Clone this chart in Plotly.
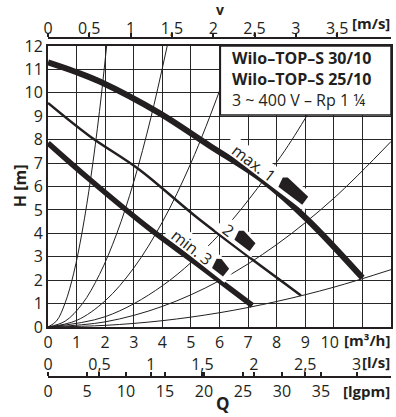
import math
import plotly.graph_objects as go

# ---------------- data ----------------
# pump curves (Q in m3/h, H in m)
q_max = [0, 1.0, 1.81, 3.9, 5.64, 7.49, 9.09, 11.0]
h_max = [11.3, 10.88, 10.48, 9.13, 7.75, 6.28, 4.57, 2.1]
q_mid = [0, 1.46, 3.2, 5.29, 8.85]
h_mid = [9.57, 8.15, 6.72, 4.6, 1.35]
q_min = [0, 1.46, 3.55, 5.16, 7.15]
h_min = [7.86, 6.3, 4.2, 2.75, 0.92]

# system curves (thin lines from the origin)
sys_a_q = [0, 0.3, 0.6, 0.9, 1.2, 1.5, 1.8, 2.06]
sys_a_h = [0, 0.26, 1.03, 2.3, 4.1, 6.4, 9.2, 12.1]
sys_b_q = [0, 0.6, 1.2, 1.8, 2.4, 3.0, 3.6, 4.17]
sys_b_h = [0, 0.25, 0.99, 2.24, 3.97, 6.2, 8.94, 12.0]
sys_c_q = [0, 1, 2, 3, 4, 5, 6, 6.55]
sys_c_h = [0, 0.28, 1.12, 2.52, 4.48, 7.0, 10.08, 12.0]
sys_d_q = [0, 2, 4, 6, 8, 9, 10.44]
sys_d_h = [0, 0.44, 1.76, 3.96, 7.04, 8.91, 12.0]
sys_e_q = [0, 2, 4, 6, 8, 10, 12]
sys_e_h = [0, 0.22, 0.88, 1.98, 3.52, 5.5, 7.92]
sys_f_q = [0, 2, 4, 6, 8, 10, 12]
sys_f_h = [0, 0.07, 0.27, 0.61, 1.09, 1.7, 2.45]

# axis ticks
q_ticks = list(range(0, 11))
h_ticks = list(range(0, 13))
v_ticks = [0, 0.5, 1, 1.5, 2, 2.5, 3, 3.5]
ls_ticks = [0, 0.5, 1, 1.5, 2, 2.5, 3]
gpm_ticks = [0, 5, 10, 15, 20, 25, 30, 35]

# unit conversions
V_PER_Q = 2 / 5.78        # m/s per m3/h (Rp 1 1/4)
LS_PER_Q = 1 / 3.6        # l/s per m3/h
GPM_PER_Q = 1 / 0.27277   # Igpm per m3/h

title_lines = ["<b>Wilo–TOP–S 30/10</b>", "<b>Wilo–TOP–S 25/10</b>", "3 ~ 400 V – Rp 1 ¼"]
speed_labels = ["max. 1", "2", "min. 3"]

# ---------------- layout geometry ----------------
W, H = 396, 417
ML, MR, MT, MB = 48, 3, 38, 40
PLOT_TOP, PLOT_BOT = 46, 327
QMAX, HMAX = 12, 12
INK = "#231f20"
GRID = "#262626"
FONT = "Open Sans"
NB = "\u00a0"

paper_h = H - MT - MB
dom0 = (H - MB - PLOT_BOT) / paper_h
dom1 = (H - MB - PLOT_TOP) / paper_h
PX_Q = (W - ML - MR) / QMAX
PX_H = (PLOT_BOT - PLOT_TOP) / HMAX


def fmt(v):
    return ("%g" % v).replace(".", ",")


def px(xp):
    return (xp - ML) / (W - ML - MR)


def py(yp):
    return (H - MB - yp) / paper_h


def rot(cq, ch, ang, pts):
    a = math.radians(ang)
    ux, uy = math.cos(a), math.sin(a)
    nx, ny = -math.sin(a), math.cos(a)
    out = []
    for u, n in pts:
        dx = u * ux + n * nx
        dy = u * uy + n * ny
        out.append((cq + dx / PX_Q, ch - dy / PX_H))
    return out


def path(pts):
    return "M " + " L ".join("%.4f,%.4f" % p for p in pts) + " Z"


fig = go.Figure()

for qs, hs in [(sys_a_q, sys_a_h), (sys_b_q, sys_b_h), (sys_c_q, sys_c_h),
               (sys_d_q, sys_d_h), (sys_e_q, sys_e_h), (sys_f_q, sys_f_h)]:
    fig.add_trace(go.Scatter(x=qs, y=hs, mode="lines", line=dict(color=INK, width=1, shape="spline"),
                             hoverinfo="skip"))

fig.add_trace(go.Scatter(x=q_max, y=h_max, mode="lines", line=dict(color=INK, width=6, shape="spline"),
                         hoverinfo="skip"))
fig.add_trace(go.Scatter(x=q_mid, y=h_mid, mode="lines", line=dict(color=INK, width=2.5, shape="spline"),
                         hoverinfo="skip"))
fig.add_trace(go.Scatter(x=q_min, y=h_min, mode="lines", line=dict(color=INK, width=5.5, shape="spline"),
                         hoverinfo="skip"))

# invisible traces to activate the secondary axes
for ax, mx in [("x2", QMAX * V_PER_Q), ("x3", QMAX * LS_PER_Q), ("x4", QMAX * GPM_PER_Q),
               ("x5", QMAX * V_PER_Q), ("x6", QMAX * LS_PER_Q)]:
    fig.add_trace(go.Scatter(x=[0, mx], y=[0, 0], xaxis=ax, yaxis="y", mode="markers",
                             marker=dict(opacity=0), hoverinfo="skip"))

shapes = []
# title box
shapes.append(dict(type="rect", xref="x", yref="y", x0=6.03, x1=QMAX, y0=9.05, y1=HMAX,
                   fillcolor="white", line=dict(color=INK, width=1.5), layer="above"))

# speed labels: (text centre Q, H, angle, text extent, marker extent)
label_geo = [
    (7.2, 7.0, 37, (-29, 26), (32, 64)),
    (6.30, 4.14, 37, (-7, 6), (9, 30)),
    (5.03, 3.42, 38, (-25, 24), (27, 43)),
]
annotations = []
for (cq, ch, ang, (t0, t1), (m0, m1)), txt in zip(label_geo, speed_labels):
    bg = rot(cq, ch, ang, [(t0 - 4, -11), (m1 + 5, -11), (m1 + 5, 8), (t0 - 4, 8)])
    shapes.append(dict(type="path", xref="x", yref="y", path=path(bg), fillcolor="white",
                       line=dict(width=0), layer="above"))
    mk = rot(cq, ch, ang, [(m0, -6), (m0 + 4, -9), (m1, -6), (m1, 4), (m0 + 2, 4)])
    shapes.append(dict(type="path", xref="x", yref="y", path=path(mk), fillcolor=INK,
                       line=dict(width=0), layer="above"))
    annotations.append(dict(x=cq, y=ch, xref="x", yref="y", text=txt, showarrow=False,
                            textangle=ang, font=dict(family=FONT, size=16, color=INK),
                            xanchor="center", yanchor="middle"))

# title box text (one block, three lines)
annotations.append(dict(x=px(231), y=py(79), xref="paper", yref="paper",
                        text="<br>".join(title_lines), align="left",
                        showarrow=False, xanchor="left", yanchor="middle",
                        font=dict(family=FONT, size=16, color=INK)))


def lab(x, y, t, anchor="center", yanchor="middle", size=15, bold=True, angle=0):
    annotations.append(dict(x=px(x), y=py(y), xref="paper", yref="paper",
                            text=("<b>%s</b>" % t) if bold else t, showarrow=False,
                            xanchor=anchor, yanchor=yanchor, textangle=angle,
                            font=dict(family=FONT, size=size, color=INK)))

lab(394, 23, "[m/s]", "right")
lab(221, -2, "v", yanchor="top", size=14)
lab(394, 340, "[m³/h]", "right")
lab(394, 362, "[l/s]", "right")
lab(394, 391, "[lgpm]", "right")
lab(224, 417, "Q", yanchor="bottom", size=17)
lab(20, 186, "H [m]", angle=-90, size=16)

common = dict(showgrid=False, zeroline=False, showline=True, linecolor=INK,
              tickfont=dict(family=FONT, size=16, color=INK), fixedrange=True)

q_text = [str(v) for v in q_ticks] + [""]
q_text[10] = "10" + NB * 2

fig.update_layout(
    width=W, height=H, margin=dict(l=ML, r=MR, t=MT, b=MB, pad=0),
    plot_bgcolor="white", paper_bgcolor="white", showlegend=False, hovermode=False,
    font=dict(family=FONT, size=16, color=INK),
    xaxis=dict(range=[0, QMAX], tickvals=list(range(12)), ticktext=q_text,
               showgrid=True, gridcolor=GRID, gridwidth=1, showline=True, linecolor=INK,
               linewidth=2, mirror=True, ticks="", zeroline=False,
               tickfont=dict(family=FONT, size=16, color=INK), fixedrange=True),
    yaxis=dict(domain=[dom0, dom1], range=[0, HMAX], tickvals=h_ticks,
               ticktext=[str(v) for v in h_ticks], showgrid=True, gridcolor=GRID, gridwidth=1,
               showline=True, linecolor=INK, linewidth=2, mirror=True, ticks="", zeroline=False,
               tickfont=dict(family=FONT, size=16, color=INK), fixedrange=True),
    # velocity scale: labels
    xaxis2=dict(common, overlaying="x", anchor="free", position=1, side="top",
                range=[0, QMAX * V_PER_Q], tickvals=v_ticks, ticktext=[fmt(v) for v in v_ticks],
                ticks="", linewidth=2, ticklabelposition="outside", ticklabelstandoff=-3),
    # velocity scale: tick marks
    xaxis5=dict(common, overlaying="x", anchor="free", position=1, side="top",
                range=[0, QMAX * V_PER_Q], tickvals=v_ticks, showticklabels=False,
                ticks="outside", ticklen=4, tickwidth=1.5, tickcolor=INK, linewidth=2),
    # l/s scale: labels
    xaxis3=dict(common, overlaying="x", anchor="free", position=0, side="top",
                range=[0, QMAX * LS_PER_Q], tickvals=ls_ticks, ticktext=[fmt(v) for v in ls_ticks],
                ticks="", linewidth=1.5),
    # l/s scale: tick marks
    xaxis6=dict(common, overlaying="x", anchor="free", position=0, side="top",
                range=[0, QMAX * LS_PER_Q], tickvals=ls_ticks, showticklabels=False,
                ticks="outside", ticklen=4, tickwidth=1.5, tickcolor=INK, linewidth=1.5),
    xaxis4=dict(common, overlaying="x", anchor="free", position=0, side="bottom",
                range=[0, QMAX * GPM_PER_Q], tickvals=gpm_ticks, ticktext=[fmt(v) for v in gpm_ticks],
                ticks="inside", ticklen=4, tickwidth=1.5, tickcolor=INK, linewidth=1.5),
    shapes=shapes,
    annotations=annotations,
)

fig.write_html("out.html")
